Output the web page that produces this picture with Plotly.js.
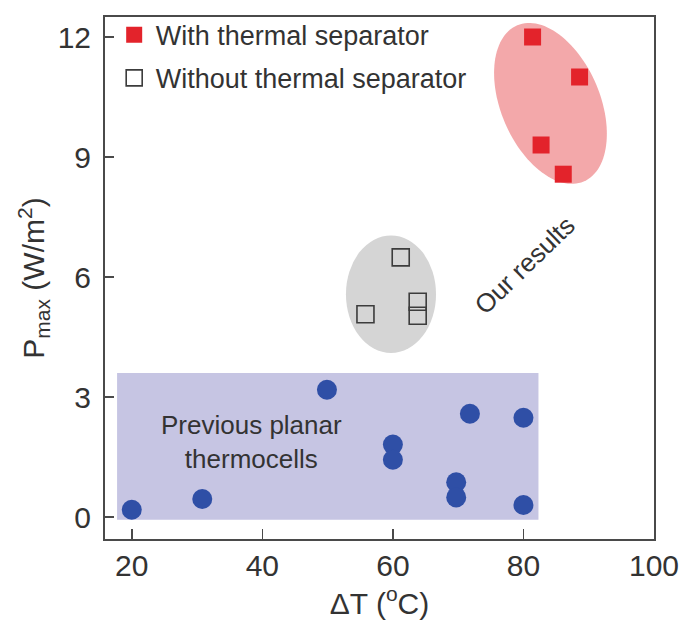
<!DOCTYPE html>
<html>
<head>
<meta charset="utf-8">
<script src="https://cdn.plot.ly/plotly-3.0.1.min.js"></script>
<style>
  html, body { margin: 0; padding: 0; background: #ffffff; }
  #chart { width: 685px; height: 622px; }
</style>
</head>
<body>
<div id="chart"></div>
<script>
// ΔT (°C) and Pmax (W/m²) for each group of thermocells
const withSepDT   = [81.4, 88.6, 82.7, 86.1];
const withSepP    = [12.0, 11.0, 9.3, 8.57];

const withoutSepDT = [61.2, 55.8, 63.8, 63.8];
const withoutSepP  = [6.49, 5.07, 5.38, 5.03];

const previousDT = [20, 30.8, 49.9, 60, 60, 71.8, 80, 69.7, 69.7, 80];
const previousP  = [0.18, 0.45, 3.18, 1.81, 1.43, 2.58, 2.48, 0.87, 0.49, 0.3];

const xTicks = [20, 40, 60, 80, 100];
const yTicks = [0, 3, 6, 9, 12];

// Plot geometry
const W = 685, H = 622;
const margin = { l: 105, r: 31, t: 16, b: 83, pad: 0 };
const xRange = [15.9, 100];
const yRange = [-0.55, 12.5];
const pxPerX = (W - margin.l - margin.r) / (xRange[1] - xRange[0]);
const pxPerY = (H - margin.t - margin.b) / (yRange[1] - yRange[0]);

// Tilted ellipse as a closed path in data coordinates.
// a, b: semi-axes in screen pixels; tilt: degrees of the long axis from vertical (top leaning left).
function ellipsePath(cx, cy, a, b, tilt) {
  const th = tilt * Math.PI / 180;
  const ux = -Math.sin(th), uy = Math.cos(th);   // long axis direction
  const vx = Math.cos(th),  vy = Math.sin(th);   // short axis direction
  const pts = [];
  for (let i = 0; i < 120; i++) {
    const t = 2 * Math.PI * i / 120;
    const dx = a * Math.cos(t) * ux + b * Math.sin(t) * vx;
    const dy = a * Math.cos(t) * uy + b * Math.sin(t) * vy;
    pts.push((cx + dx / pxPerX).toFixed(4) + ',' + (cy + dy / pxPerY).toFixed(4));
  }
  return 'M' + pts.join('L') + 'Z';
}

const font = "'Liberation Sans', Arial, sans-serif";
const ink = '#333333';
const frame = '#4a4a4a';

const traces = [
  {
    x: withSepDT, y: withSepP, type: 'scatter', mode: 'markers',
    name: 'With thermal separator', legendgroup: 'a',
    marker: { symbol: 'square', size: 17, color: '#e3232b', line: { width: 0 } }
  },
  {
    x: withoutSepDT, y: withoutSepP, type: 'scatter', mode: 'markers',
    name: 'Without thermal separator', legendgroup: 'b',
    marker: { symbol: 'square-open', size: 17, color: '#3c3c3c', line: { width: 1.6 } }
  },
  {
    x: previousDT, y: previousP, type: 'scatter', mode: 'markers',
    name: 'Previous planar thermocells', showlegend: false,
    marker: { symbol: 'circle', size: 20, color: '#2f4fa6', line: { width: 0 } }
  }
];

const layout = {
  width: W, height: H,
  margin: margin,
  paper_bgcolor: '#ffffff', plot_bgcolor: '#ffffff',
  font: { family: font, color: ink, size: 26 },
  showlegend: true,
  legend: {
    x: 0.014, y: 1.01, xanchor: 'left', yanchor: 'top',
    bgcolor: 'rgba(0,0,0,0)', borderwidth: 0,
    font: { family: font, size: 27, color: ink },
    itemwidth: 33,
    traceorder: 'grouped', tracegroupgap: 5
  },
  xaxis: {
    range: xRange, tickvals: xTicks, ticktext: xTicks.map(String),
    ticks: 'inside', ticklen: 10, tickwidth: 1.6, tickcolor: frame,
    showline: true, linecolor: frame, linewidth: 2, mirror: true,
    showgrid: false, zeroline: false,
    tickfont: { family: font, size: 30, color: ink },
    ticklabelstandoff: -1,
    title: { text: 'ΔT (<sup>o</sup>C)', font: { family: font, size: 30, color: ink }, standoff: 0 }
  },
  yaxis: {
    range: yRange, tickvals: yTicks, ticktext: yTicks.map(String),
    ticks: 'inside', ticklen: 9, tickwidth: 1.6, tickcolor: frame,
    showline: true, linecolor: frame, linewidth: 2, mirror: true,
    showgrid: false, zeroline: false,
    tickfont: { family: font, size: 30, color: ink },
    ticklabelstandoff: 6,
    title: { text: 'P<sub>max</sub> (W/m<sup>2</sup>)', font: { family: font, size: 30, color: ink }, standoff: 4 }
  },
  shapes: [
    {
      type: 'rect', xref: 'x', yref: 'y', layer: 'below',
      x0: 17.75, x1: 82.3, y0: -0.07, y1: 3.6,
      fillcolor: '#c6c5e3', line: { width: 0 }
    },
    {
      type: 'circle', xref: 'x', yref: 'y', layer: 'below',
      x0: 59.71 - 6.9, x1: 59.71 + 6.9, y0: 5.57 - 1.47, y1: 5.57 + 1.47,
      fillcolor: '#d5d5d5', line: { width: 0 }
    },
    {
      type: 'path', xref: 'x', yref: 'y', layer: 'below',
      path: ellipsePath(84.14, 10.34, 85, 49.5, 23),
      fillcolor: '#f3a8aa', line: { width: 0 }
    }
  ],
  annotations: [
    {
      text: 'Previous planar<br>thermocells', xref: 'x', yref: 'y',
      x: 38.3, y: 1.87, showarrow: false,
      font: { family: font, size: 26, color: ink }
    },
    {
      text: 'Our results', xref: 'x', yref: 'y',
      x: 80.2, y: 6.3, showarrow: false, textangle: -44,
      font: { family: font, size: 26, color: ink }
    }
  ]
};

Plotly.newPlot('chart', traces, layout, { staticPlot: true, displayModeBar: false });
</script>
</body>
</html>
